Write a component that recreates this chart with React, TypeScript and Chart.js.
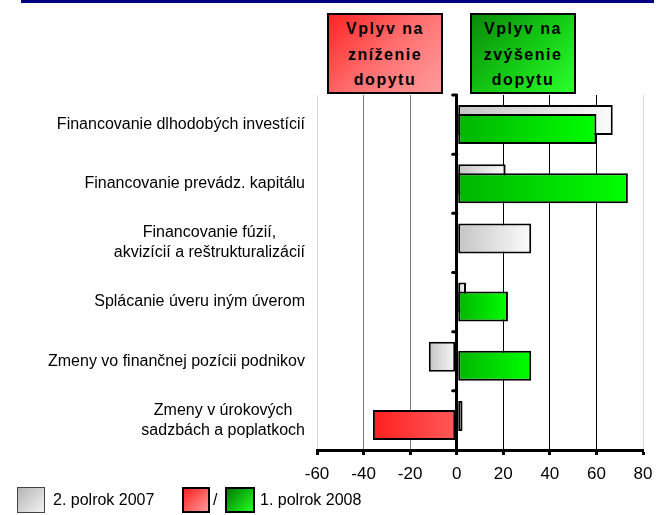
import React, { useEffect, useRef } from 'react';
import { Chart, registerables } from 'chart.js';
Chart.register(...registerables);

const categories: string[][] = [
  ['Financovanie dlhodobých investícií'],
  ['Financovanie prevádz. kapitálu'],
  ['Financovanie fúzií,', 'akvizícií a reštrukturalizácií'],
  ['Splácanie úveru iným úverom'],
  ['Zmeny vo finančnej pozícii podnikov'],
  ['Zmeny v úrokových', 'sadzbách a poplatkoch'],
];
const h2of2007 = [67, 21, 32, 4, -12, 2.5];
const h1of2008 = [60, 73.5, 0, 22, 32, -36];
const xMin = -60;
const xMax = 80;
const xStep = 20;
const legendLabels = ['2. polrok 2007', '1. polrok 2008'];
const boxTexts = [
  ['Vplyv na', 'zníženie', 'dopytu'],
  ['Vplyv na', 'zvýšenie', 'dopytu'],
];

const FONT = '"Liberation Sans", Arial, sans-serif';

function barGradient(ctx: any, kind: 'gray' | 'color') {
  const chart = ctx.chart;
  const v = ctx.raw;
  const xs = chart.scales && chart.scales.x;
  const fallback = kind === 'gray' ? '#e0e0e0' : (typeof v === 'number' && v < 0 ? '#ff3030' : '#00dd00');
  if (typeof v !== 'number' || !xs) return fallback;
  const x0 = xs.getPixelForValue(0);
  const x1 = xs.getPixelForValue(v);
  if (!isFinite(x0) || !isFinite(x1)) return fallback;
  const a = Math.min(x0, x1);
  const b = Math.max(x0, x1) + 0.01;
  const g = chart.ctx.createLinearGradient(a, 0, b, 0);
  if (kind === 'gray') {
    g.addColorStop(0, '#c4c4c4');
    g.addColorStop(1, '#fbfbfb');
  } else if (v < 0) {
    g.addColorStop(0, '#ff2020');
    g.addColorStop(1, '#ff5a5a');
  } else {
    g.addColorStop(0, '#00b400');
    g.addColorStop(1, '#00ff00');
  }
  return g;
}

const orderPlugin = {
  id: 'orderPlugin',
  beforeDatasetDraw(chart: any, args: any) {
    if (args.index === 1) return false;
  },
  afterDatasetsDraw(chart: any) {
    chart.getDatasetMeta(1).controller.draw();
  },
};

const labelPlugin = {
  id: 'catLabels',
  afterDraw(chart: any) {
    const c = chart.ctx;
    const ys = chart.scales.y;
    const xs = chart.scales.x;
    c.save();
    c.font = '16px ' + FONT;
    c.fillStyle = '#000';
    c.textBaseline = 'middle';
    c.textAlign = 'center';
    const right = ys.right - 12;
    (chart.data.labels as string[][]).forEach((lab, i) => {
      const lines = Array.isArray(lab) ? lab : [lab];
      const w = Math.max(...lines.map((l) => c.measureText(l).width));
      const cx = right - w / 2;
      const yc = ys.getPixelForTick(i);
      lines.forEach((l, j) => c.fillText(l, cx, yc + (j - (lines.length - 1) / 2) * 20));
    });
    const x0 = xs.getPixelForValue(0);
    c.strokeStyle = '#000';
    c.lineWidth = 3;
    c.lineCap = 'round';
    for (let i = 0; i < chart.data.labels.length; i++) {
      const y = ys.getPixelForValue(i - 0.5);
      c.beginPath();
      c.moveTo(x0 - 4, y);
      c.lineTo(x0, y);
      c.stroke();
    }
    c.restore();
  },
};

export default function App() {
  const ref = useRef<HTMLCanvasElement>(null);
  useEffect(() => {
    if (!ref.current) return;
    const chart = new Chart(ref.current, {
      type: 'bar',
      data: {
        labels: categories as any,
        datasets: [
          {
            label: legendLabels[0],
            data: h2of2007,
            backgroundColor: (ctx: any) => barGradient(ctx, 'gray'),
            borderColor: '#000',
            borderWidth: 2,
            borderSkipped: false,
          },
          {
            label: legendLabels[1],
            data: h1of2008,
            backgroundColor: (ctx: any) => barGradient(ctx, 'color'),
            borderColor: '#000',
            borderWidth: 2,
            borderSkipped: false,
          },
        ],
      },
      options: {
        indexAxis: 'y',
        responsive: false,
        animation: false,
        devicePixelRatio: 1,
        categoryPercentage: 0.304,
        barPercentage: 3.33,
        layout: { padding: { top: 95, right: 25, left: 0, bottom: 0 } },
        plugins: { legend: { display: false }, tooltip: { enabled: false } },
        scales: {
          x: {
            type: 'linear',
            min: xMin,
            max: xMax,
            ticks: {
              stepSize: xStep,
              color: '#000',
              font: { size: 17, family: FONT },
              padding: 9,
            },
            grid: {
              color: (ctx: any) => {
                const v = ctx.tick ? ctx.tick.value : 0;
                if (v === xMin || v === xMax) return '#d8d8d8';
                if (v < 0) return '#7a7a7a';
                return '#000';
              },
              lineWidth: (ctx: any) => (ctx.tick && ctx.tick.value === 0 ? 3 : 1),
              tickColor: '#000',
              tickWidth: 3,
              tickLength: 5,
            },
            border: { display: true, color: '#000', width: 3 },
            afterFit: (s: any) => {
              s.height = 65;
            },
          },
          y: {
            type: 'category',
            ticks: { display: false },
            grid: { display: false },
            border: { display: false },
            afterFit: (s: any) => {
              s.width = 317;
            },
          },
        },
      },
      plugins: [orderPlugin, labelPlugin],
    } as any);
    return () => chart.destroy();
  }, []);

  const boxStyle = (left: number, width: number, bg: string): React.CSSProperties => ({
    position: 'absolute',
    left,
    top: 13,
    width,
    height: 81,
    boxSizing: 'border-box',
    border: '2px solid #000',
    background: bg,
    fontFamily: FONT,
    fontWeight: 'bold',
    fontSize: 16,
    letterSpacing: '1.5px',
    lineHeight: '25.5px',
    textAlign: 'center',
    paddingTop: 1,
    color: '#000',
  });

  const legText: React.CSSProperties = {
    position: 'absolute',
    top: 490,
    fontFamily: FONT,
    fontSize: 16,
    lineHeight: '20px',
    color: '#000',
    whiteSpace: 'nowrap',
  };

  return (
    <div style={{ position: 'absolute', left: 0, top: 0, width: 668, height: 515, background: '#fff', overflow: 'hidden' }}>
      <canvas ref={ref} width={668} height={515} style={{ display: 'block', width: 668, height: 515 }} />
      <div style={{ position: 'absolute', left: 21, top: 0, width: 633, height: 3, background: '#000080' }} />
      <div style={boxStyle(327, 116, 'linear-gradient(135deg, #ff2424 0%, #ff6e6e 50%, #ff9c9c 100%)')}>
        {boxTexts[0].map((t, i) => (
          <div key={i}>{t}</div>
        ))}
      </div>
      <div style={boxStyle(470, 106, 'linear-gradient(135deg, #0a8a0a 0%, #14c814 50%, #2cff2c 100%)')}>
        {boxTexts[1].map((t, i) => (
          <div key={i}>{t}</div>
        ))}
      </div>
      <div style={{ position: 'absolute', left: 17, top: 487, width: 28, height: 26, boxSizing: 'border-box', border: '1px solid #444', background: 'linear-gradient(135deg, #b4b4b4, #f2f2f2)' }} />
      <div style={{ ...legText, left: 53 }}>{legendLabels[0]}</div>
      <div style={{ position: 'absolute', left: 182, top: 487, width: 28, height: 26, boxSizing: 'border-box', border: '2px solid #000', background: 'linear-gradient(135deg, #ff2020, #ff9a9a)' }} />
      <div style={{ ...legText, left: 213 }}>/</div>
      <div style={{ position: 'absolute', left: 225, top: 487, width: 30, height: 26, boxSizing: 'border-box', border: '2px solid #000', background: 'linear-gradient(135deg, #007a00, #22ff22)' }} />
      <div style={{ ...legText, left: 260 }}>{legendLabels[1]}</div>
    </div>
  );
}
